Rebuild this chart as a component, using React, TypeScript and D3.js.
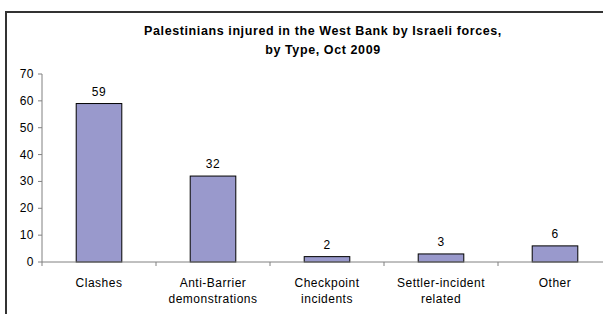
import * as d3 from "d3";

const categories = [
  ["Clashes"],
  ["Anti-Barrier", "demonstrations"],
  ["Checkpoint", "incidents"],
  ["Settler-incident", "related"],
  ["Other"],
];
const values = [59, 32, 2, 3, 6];
const yTicks = [0, 10, 20, 30, 40, 50, 60, 70];
const titleLines = [
  "Palestinians injured in the West Bank by Israeli forces,",
  "by Type, Oct 2009",
];

const BAR = "#9999cc";
const AXIS = "#808080";
const FONT = "Liberation Sans, Arial, sans-serif";

export default function App() {
  const W = 603;
  const H = 314;
  const left = 42;
  const bandW = 114;
  const x = d3
    .scaleBand<number>()
    .domain(d3.range(values.length))
    .range([left, left + bandW * values.length])
    .paddingInner(0.6)
    .paddingOuter(0.3);
  const y = d3.scaleLinear().domain([0, 70]).range([262, 74]);
  const y0 = y(0);

  return (
    <svg
      width={W}
      height={H}
      style={{ position: "absolute", left: 0, top: 0, background: "#fff" }}
      fontFamily={FONT}
    >
      {/* chart frame, cropped on right and bottom */}
      <rect x={6} y={12} width={640} height={320} fill="#fff" stroke="#333" strokeWidth={2} />

      {titleLines.map((t, i) => (
        <text
          key={t}
          x={323}
          y={35 + i * 19}
          textAnchor="middle"
          fontSize={12.5}
          fontWeight="bold"
          letterSpacing={0.6}
          fill="#000"
        >
          {t}
        </text>
      ))}

      {/* y axis */}
      <line x1={left} x2={left} y1={y(70)} y2={y0} stroke={AXIS} />
      {yTicks.map((t) => (
        <g key={t}>
          <line x1={left - 4} x2={left} y1={y(t)} y2={y(t)} stroke={AXIS} />
          <text
            x={left - 8}
            y={y(t) + 4}
            textAnchor="end"
            fontSize={12}
            letterSpacing={0.5}
            fill="#000"
          >
            {t}
          </text>
        </g>
      ))}

      {/* bars */}
      {values.map((v, i) => (
        <g key={i}>
          <rect
            x={x(i)!}
            y={y(v)}
            width={x.bandwidth()}
            height={y0 - y(v)}
            fill={BAR}
            stroke="#000"
            strokeWidth={1}
          />
          <text
            x={x(i)! + x.bandwidth() / 2}
            y={y(v) - 8}
            textAnchor="middle"
            fontSize={12}
            letterSpacing={0.5}
            fill="#000"
          >
            {v}
          </text>
        </g>
      ))}

      {/* x axis */}
      <line x1={left} x2={left + bandW * values.length} y1={y0} y2={y0} stroke={AXIS} />
      {d3.range(values.length + 1).map((i) => (
        <line
          key={i}
          x1={left + i * bandW}
          x2={left + i * bandW}
          y1={y0}
          y2={y0 + 4}
          stroke={AXIS}
        />
      ))}
      {categories.map((lines, i) =>
        lines.map((ln, j) => (
          <text
            key={i + "-" + j}
            x={x(i)! + x.bandwidth() / 2}
            y={287 + j * 16}
            textAnchor="middle"
            fontSize={12}
            letterSpacing={0.5}
            fill="#000"
          >
            {ln}
          </text>
        ))
      )}
    </svg>
  );
}
